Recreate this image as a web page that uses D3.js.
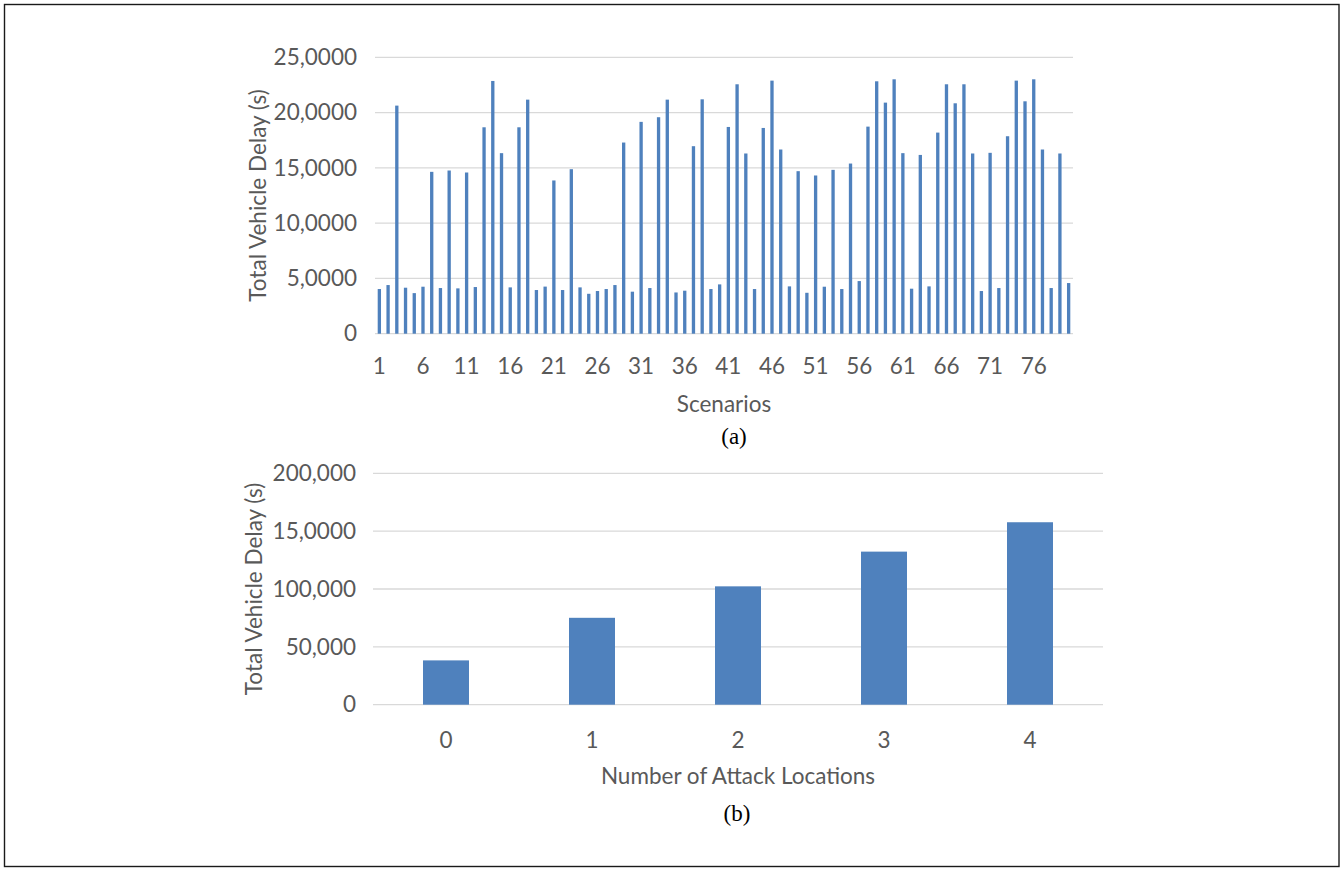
<!DOCTYPE html>
<html>
<head>
<meta charset="utf-8">
<script src="https://cdn.jsdelivr.net/npm/d3@7"></script>
<style>
  html, body { margin: 0; padding: 0; background: #fff; }
  svg { display: block; }
</style>
</head>
<body>
<svg id="fig" width="1344" height="869"></svg>
<script>
// ---- Panel (a): total delay per scenario ----
const scenarios = d3.range(1, 81);
const scenarioDelay = [
  40400, 44000, 206300, 41600, 36700, 42500, 146400, 41300, 147600, 41000,
  145800, 42200, 186700, 228600, 163300, 41900, 186700, 211700, 39500, 42600,
  138600, 39500, 148800, 41900, 36100, 38600, 40400, 44000, 172900, 38000,
  191600, 41300, 195800, 211700, 37300, 38900, 169600, 212000, 40400, 44600,
  187000, 225600, 163000, 40400, 186100, 228900, 166600, 42800, 147000, 37000,
  143100, 42500, 148200, 40400, 153900, 47600, 187300, 228300, 209000, 230100,
  163300, 40700, 161700, 42800, 181900, 225600, 208400, 225600, 163000, 38600,
  163600, 41300, 178600, 228900, 210200, 230100, 166600, 41300, 163000, 45800
];
const topTickValues = [0, 50000, 100000, 150000, 200000, 250000];
const topTickLabels = ["0", "5,0000", "10,0000", "15,0000", "20,0000", "25,0000"];
const scenarioTickEvery = 5;

// ---- Panel (b): delay by number of attack locations ----
const attackLocations = ["0", "1", "2", "3", "4"];
const locationDelay = [38300, 75100, 102300, 132300, 157700];
const bottomTickValues = [0, 50000, 100000, 150000, 200000];
const bottomTickLabels = ["0", "50,000", "100,000", "15,0000", "200,000"];

const BAR = "#4F81BD";
const GRID = "#D9D9D9";
const TXT = "#595959";
const FONT = "Lato, 'Open Sans', sans-serif";
const SERIF = "'Liberation Serif', 'Times New Roman', serif";

const svg = d3.select("#fig");

// outer frame
svg.append("rect")
  .attr("x", 4.5).attr("y", 4.5)
  .attr("width", 1334.5).attr("height", 862)
  .attr("fill", "none").attr("stroke", "#1a1a1a").attr("stroke-width", 1.4);

function panel(opts) {
  const g = svg.append("g");
  const x = d3.scaleBand()
    .domain(opts.categories)
    .range([opts.x0, opts.x1])
    .paddingInner(opts.pad)
    .paddingOuter(opts.pad / 2);
  const y = d3.scaleLinear()
    .domain([0, opts.yMax])
    .range([opts.y0, opts.y1]);

  // horizontal grid lines
  g.append("g").selectAll("line")
    .data(opts.tickValues)
    .join("line")
    .attr("x1", opts.x0).attr("x2", opts.x1)
    .attr("y1", d => y(d)).attr("y2", d => y(d))
    .attr("stroke", GRID).attr("stroke-width", 1.3);

  // bars
  g.append("g").selectAll("rect")
    .data(opts.values)
    .join("rect")
    .attr("x", (d, i) => x(opts.categories[i]))
    .attr("width", x.bandwidth())
    .attr("y", d => y(d))
    .attr("height", d => y(0) - y(d))
    .attr("fill", BAR);

  // y tick labels
  const yAxis = d3.axisLeft(y)
    .tickValues(opts.tickValues)
    .tickFormat((d, i) => opts.tickLabels[i])
    .tickSize(0).tickPadding(0);
  const ya = g.append("g")
    .attr("transform", `translate(${opts.yLabelX},0)`)
    .call(yAxis);
  ya.select(".domain").remove();
  ya.selectAll("text")
    .attr("fill", TXT).attr("font-family", FONT).attr("font-size", opts.fs);

  // x tick labels
  const xAxis = d3.axisBottom(x)
    .tickValues(opts.xTicks)
    .tickSize(0).tickPadding(0);
  const xa = g.append("g")
    .attr("transform", `translate(0,${opts.xLabelY})`)
    .call(xAxis);
  xa.select(".domain").remove();
  xa.selectAll("text")
    .attr("fill", TXT).attr("font-family", FONT).attr("font-size", opts.fs)
    .attr("dy", "0.71em");

  // axis titles
  g.append("text")
    .attr("transform", `translate(${opts.yTitleX},${(opts.y0 + opts.y1) / 2}) rotate(-90)`)
    .attr("text-anchor", "middle").attr("dominant-baseline", "central")
    .attr("fill", TXT).attr("font-family", FONT).attr("font-size", opts.fs)
    .text("Total Vehicle Delay (s)");
  g.append("text")
    .attr("x", (opts.x0 + opts.x1) / 2).attr("y", opts.xTitleY)
    .attr("text-anchor", "middle")
    .attr("fill", TXT).attr("font-family", FONT).attr("font-size", opts.fs)
    .text(opts.xTitle);
  g.append("text")
    .attr("x", opts.capX).attr("y", opts.capY)
    .attr("text-anchor", "middle")
    .attr("fill", "#000").attr("font-family", SERIF).attr("font-size", 23)
    .text(opts.caption);
}

panel({
  categories: scenarios.map(String),
  values: scenarioDelay,
  x0: 375, x1: 1073, y0: 333.7, y1: 57.3,
  yMax: 250000, pad: 0.62,
  tickValues: topTickValues, tickLabels: topTickLabels,
  xTicks: scenarios.filter((d, i) => i % scenarioTickEvery === 0).map(String),
  yLabelX: 357, xLabelY: 358, fs: 22.5,
  yTitleX: 257, xTitle: "Scenarios", xTitleY: 411.5,
  caption: "(a)", capX: 734, capY: 444
});

panel({
  categories: attackLocations,
  values: locationDelay,
  x0: 373, x1: 1103, y0: 704.7, y1: 473.3,
  yMax: 200000, pad: 0.685,
  tickValues: bottomTickValues, tickLabels: bottomTickLabels,
  xTicks: attackLocations,
  yLabelX: 356, xLabelY: 732, fs: 22.5,
  yTitleX: 253, xTitle: "Number of Attack Locations", xTitleY: 783.5,
  caption: "(b)", capX: 737, capY: 821
});
</script>
</body>
</html>
